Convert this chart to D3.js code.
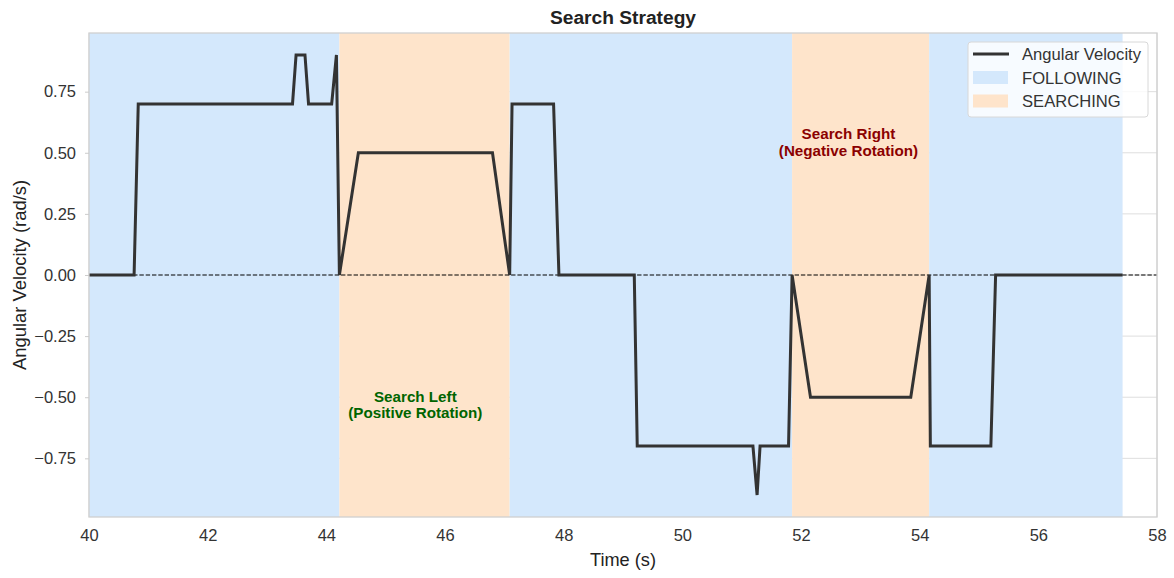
<!DOCTYPE html>
<html>
<head>
<meta charset="utf-8">
<script src="https://cdn.jsdelivr.net/npm/d3@7"></script>
<style>
  body { margin: 0; background: #fff; }
  svg { font-family: "Liberation Sans", Arial, sans-serif; }
  .tick text { fill: #333; font-size: 16.5px; }
</style>
</head>
<body>
<svg id="chart" width="1174" height="578"></svg>
<script>
// angular velocity trace (time in s, value in rad/s)
let times = [40.0, 40.76, 40.83, 43.43, 43.49, 43.64, 43.70, 44.09, 44.17, 44.22,
             44.54, 46.80, 47.09, 47.13, 47.83, 47.92, 49.19, 49.24, 51.19, 51.26,
             51.31, 51.79, 51.85, 52.16, 53.85, 54.16, 54.18, 55.20, 55.28, 57.42]
let omega = [0, 0, 0.7, 0.7, 0.9, 0.9, 0.7, 0.7, 0.9, 0,
             0.5, 0.5, 0, 0.7, 0.7, 0, 0, -0.7, -0.7, -0.9,
             -0.7, -0.7, 0, -0.5, -0.5, 0, -0.7, -0.7, 0, 0]

// state spans
let span_start = [40.0, 44.22, 47.09, 51.85, 54.16]
let span_end = [44.22, 47.09, 51.85, 54.16, 57.42]
let span_state = ["FOLLOWING", "SEARCHING", "FOLLOWING", "SEARCHING", "FOLLOWING"]

let x_ticks = [40, 42, 44, 46, 48, 50, 52, 54, 56, 58]
let y_ticks = [-0.75, -0.5, -0.25, 0, 0.25, 0.5, 0.75]

let notes = [
  {t: 45.5, v: -0.53, lines: ["Search Left", "(Positive Rotation)"], color: "#006400"},
  {t: 52.8, v: 0.545, lines: ["Search Right", "(Negative Rotation)"], color: "#8b0000"}
]

let width = 1174,
    height = 578,
    margins = {left: 89, right: 17, top: 33, bottom: 61};

let state_colors = {FOLLOWING: "#d4e8fc", SEARCHING: "#fee4cb"}

function make_scales() {
  return {
    x: d3.scaleLinear().domain([40, 58]).range([margins.left, width - margins.right]),
    y: d3.scaleLinear().domain([-0.99, 0.99]).range([height - margins.bottom, margins.top])
  }
}

function draw() {
  let svg = d3.select("#chart")
  let scales = make_scales()
  let x = scales.x, y = scales.y

  // grid
  svg.append("g").selectAll("line")
    .data(y_ticks).enter().append("line")
    .attr("x1", margins.left).attr("x2", width - margins.right)
    .attr("y1", d => y(d)).attr("y2", d => y(d))
    .attr("stroke", "#dedede").attr("stroke-width", 1)
  svg.append("g").selectAll("line")
    .data(x_ticks).enter().append("line")
    .attr("x1", d => x(d)).attr("x2", d => x(d))
    .attr("y1", margins.top).attr("y2", height - margins.bottom)
    .attr("stroke", "#dedede").attr("stroke-width", 1)

  // spans
  svg.append("g").selectAll("rect")
    .data(span_start).enter().append("rect")
    .attr("x", (d, i) => x(d))
    .attr("width", (d, i) => x(span_end[i]) - x(d))
    .attr("y", margins.top)
    .attr("height", height - margins.bottom - margins.top)
    .attr("fill", (d, i) => state_colors[span_state[i]])

  // zero line
  svg.append("line")
    .attr("x1", margins.left).attr("x2", width - margins.right)
    .attr("y1", y(0)).attr("y2", y(0))
    .attr("stroke", "#000").attr("stroke-width", 1.2)
    .attr("stroke-dasharray", "4.4,1.9")

  // trace
  let pts = times.map((t, i) => [t, omega[i]])
  let line = d3.line().x(d => x(d[0])).y(d => y(d[1]))
  svg.append("path")
    .attr("d", line(pts))
    .attr("fill", "none")
    .attr("stroke", "#333333")
    .attr("stroke-width", 3)
    .attr("stroke-linejoin", "miter")

  // annotations
  notes.forEach(n => {
    let txt = svg.append("text")
      .attr("text-anchor", "middle")
      .attr("fill", n.color)
      .attr("font-weight", "bold")
      .attr("font-size", "15.2px")
    n.lines.forEach((l, i) => {
      txt.append("tspan")
        .attr("x", x(n.t))
        .attr("y", y(n.v) + (i - 0.5) * 16.8 + 5.5)
        .text(l)
    })
  })

  // frame
  svg.append("rect")
    .attr("x", margins.left).attr("y", margins.top)
    .attr("width", width - margins.right - margins.left)
    .attr("height", height - margins.bottom - margins.top)
    .attr("fill", "none").attr("stroke", "#d0d0d0").attr("stroke-width", 1.3)

  // axes
  let x_axis = svg.append("g")
    .attr("transform", `translate(0, ${height - margins.bottom})`)
    .call(d3.axisBottom(x).tickValues(x_ticks).tickFormat(d3.format("d")).tickSize(0).tickPadding(12))
  let y_axis = svg.append("g")
    .attr("transform", `translate(${margins.left}, 0)`)
    .call(d3.axisLeft(y).tickValues(y_ticks).tickFormat(d => d3.format(".2f")(d).replace("-", "\u2212")).tickSize(4).tickPadding(9))
  ;[x_axis, y_axis].forEach(a => {
    a.select(".domain").remove()
    a.selectAll(".tick line").attr("stroke", "#cccccc")
  })

  // titles
  svg.append("text")
    .attr("x", (margins.left + width - margins.right) / 2).attr("y", 24)
    .attr("text-anchor", "middle")
    .attr("font-size", "19.2px").attr("font-weight", "bold").attr("fill", "#222")
    .text("Search Strategy")
  svg.append("text")
    .attr("x", (margins.left + width - margins.right) / 2).attr("y", 566)
    .attr("text-anchor", "middle")
    .attr("font-size", "18.2px").attr("fill", "#222")
    .text("Time (s)")
  svg.append("text")
    .attr("transform", `translate(26, ${y(0)})rotate(-90)`)
    .attr("text-anchor", "middle")
    .attr("font-size", "18.4px").attr("fill", "#222")
    .text("Angular Velocity (rad/s)")

  // legend
  let lg = svg.append("g").attr("transform", "translate(968, 42)")
  lg.append("rect")
    .attr("width", 180).attr("height", 75).attr("rx", 3)
    .attr("fill", "#ffffff").attr("fill-opacity", 0.8)
    .attr("stroke", "#d8d8d8").attr("stroke-width", 1)
  let items = [
    {label: "Angular Velocity", kind: "line"},
    {label: "FOLLOWING", kind: "FOLLOWING"},
    {label: "SEARCHING", kind: "SEARCHING"}
  ]
  items.forEach((it, i) => {
    let cy = 12 + i * 23.5
    if (it.kind == "line") {
      lg.append("line").attr("x1", 5).attr("x2", 41).attr("y1", cy).attr("y2", cy)
        .attr("stroke", "#333").attr("stroke-width", 3)
    } else {
      lg.append("rect").attr("x", 5).attr("y", cy - 6.5).attr("width", 35).attr("height", 13)
        .attr("fill", state_colors[it.kind])
    }
    lg.append("text").attr("x", 54).attr("y", cy + 6)
      .attr("font-size", "16.6px").attr("fill", "#333")
      .text(it.label)
  })
}

draw()
</script>
</body>
</html>
